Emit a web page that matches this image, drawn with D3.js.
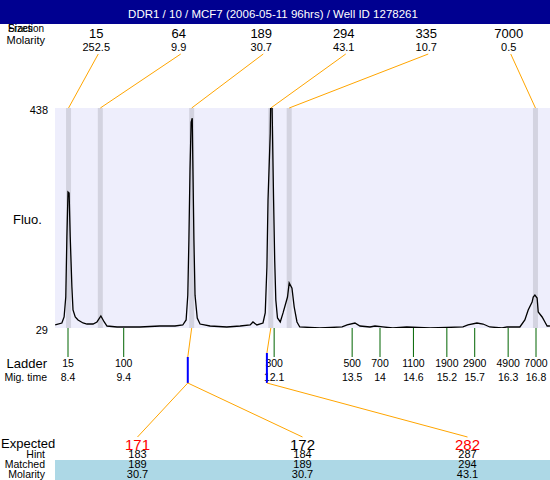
<html>
<head>
<script src="https://d3js.org/d3.v7.min.js"></script>
<style>
  body { margin: 0; background: #fff; }
  svg text { font-family: "Liberation Sans", Arial, sans-serif; }
</style>
</head>
<body>
<div id="vis_container"></div>
<script>
var title = "DDR1 / 10 / MCF7 (2006-05-11 96hrs) / Well ID 1278261";

// peaks found in the sample (migration time, size, molarity)
var peakTimes = [8.41, 8.98, 10.62, 12.04, 12.37, 16.79];
var peakSizes = ["15", "64", "189", "294", "335", "7000"];
var peakMolarity = ["252.5", "9.9", "30.7", "43.1", "10.7", "0.5"];

// ladder
var ladderSizes = ["15", "100", "300", "500", "700", "1100", "1900", "2900", "4900", "7000"];
var ladderTimes = [8.4, 9.4, 12.1, 13.5, 14, 14.6, 15.2, 15.7, 16.3, 16.8];

// matched fragments
var matchPeak = [2, 3];            // index into peaks
var matchTimes = [10.55, 11.97];    // blue markers
var matchTop = [357, 353];
var expected = ["171", "172", "282"];
var expectedRed = [true, false, true];
var expectedMatch = [0, 0, 1];
var hint = ["183", "184", "287"];
var matched = ["189", "189", "294"];
var matchedMolarity = ["30.7", "30.7", "43.1"];

// electropherogram trace: [migration time, fluorescence]
var trace = [
  [8.17,34.6],[8.29,38.3],[8.33,49.5],[8.36,86.6],[8.38,198],[8.40,282],[8.42,280],[8.44,198],
  [8.47,105],[8.49,62.5],[8.53,49.5],[8.58,43.9],[8.67,38.3],[8.74,36.4],[8.85,36.4],[8.92,40.2],
  [8.99,51.3],[9.05,40.2],[9.10,32.7],[9.28,30.9],[9.69,30.9],[10.05,32.7],[10.32,32.7],[10.46,34.6],
  [10.52,43.9],[10.55,90],[10.57,193],[10.59,323],[10.61,412],[10.63,419],[10.64,341],[10.66,193],
  [10.68,90],[10.72,47.6],[10.77,36.4],[10.95,32.7],[11.25,30.9],[11.49,32.7],[11.67,34.6],[11.72,40.2],
  [11.79,34.6],[11.90,38.3],[11.94,57],[11.97,142],[11.99,267],[12.03,391],[12.04,460],[12.06,460],
  [12.09,267],[12.11,155],[12.13,81],[12.16,47.6],[12.21,40.2],[12.26,57],[12.34,86.6],[12.37,112.7],
  [12.42,103],[12.46,68],[12.51,40.2],[12.56,30.9],[12.92,29],[13.32,30.9],[13.41,34.6],[13.55,38.3],
  [13.64,32.7],[13.82,30.9],[13.91,32.7],[14.05,30.9],[14.23,29],[14.48,30.9],[14.90,29],[15.49,30.9],
  [15.58,34.6],[15.74,38.3],[15.85,36.4],[15.97,30.9],[16.19,29],[16.28,30.9],[16.51,30.9],[16.60,44],
  [16.66,62.5],[16.73,77.3],[16.75,86.6],[16.78,90.3],[16.82,84.8],[16.84,58.7],[16.91,49.5],[16.96,40.2],
  [17.00,32.7],[17.05,32.7]
];
var yTicks = [29, 438];

var width = 550, height = 480;
var plotLeft = 55, plotRight = 550, plotTop = 108, plotBottom = 328;

var svg = d3.select("#vis_container").append("svg")
  .attr("width", width).attr("height", height);

var x = d3.scaleLinear().domain([8.4, 16.8]).range([68, 536]);
var y = d3.scaleLinear().domain([29, 438]).range([plotBottom, plotTop]);
var col6 = d3.scaleBand().domain(d3.range(6)).range([plotLeft, plotRight]);
var col3 = d3.scaleBand().domain(d3.range(3)).range([plotLeft, plotRight]);

// title bar
svg.append("rect").attr("x", 0).attr("y", 0).attr("width", width).attr("height", 24).attr("fill", "#000090");
svg.append("text").attr("x", 273).attr("y", 18).attr("text-anchor", "middle")
  .attr("fill", "#fff").style("font-size", "11.5px").text(title);

// header labels
svg.append("text").attr("x", 8).attr("y", 32).style("font-size", "10px").text("Fraction");
svg.append("text").attr("x", 8).attr("y", 32).style("font-size", "10px").text("Sizes");
svg.append("text").attr("x", 45).attr("y", 44).attr("text-anchor", "end").style("font-size", "11px").text("Molarity");

svg.selectAll(".psize").data(peakSizes).enter().append("text")
  .attr("x", function(d, i) { return col6(i) + col6.bandwidth() / 2; })
  .attr("y", 38).attr("text-anchor", "middle").style("font-size", "13px").text(function(d) { return d; });
svg.selectAll(".pmol").data(peakMolarity).enter().append("text")
  .attr("x", function(d, i) { return col6(i) + col6.bandwidth() / 2; })
  .attr("y", 51).attr("text-anchor", "middle").style("font-size", "11px").text(function(d) { return d; });

// plot background
svg.append("rect").attr("x", plotLeft).attr("y", plotTop).attr("width", plotRight - plotLeft).attr("height", plotBottom - plotTop)
  .attr("fill", "#EEEEFC");

svg.selectAll(".band").data(peakTimes).enter().append("rect")
  .attr("x", function(d) { return x(d) - 2.5; }).attr("y", plotTop)
  .attr("width", 5).attr("height", plotBottom - plotTop).attr("fill", "#D3D3E0");

// orange lines from header labels to peaks
svg.selectAll(".plink").data(peakTimes).enter().append("line")
  .attr("x1", function(d, i) { return col6(i) + col6.bandwidth() / 2 + 2; }).attr("y1", 54)
  .attr("x2", function(d) { return x(d); }).attr("y2", plotTop)
  .attr("stroke", "#FFA500").attr("stroke-width", 1);

svg.append("clipPath").attr("id", "clip").append("rect")
  .attr("x", plotLeft).attr("y", plotTop).attr("width", plotRight - plotLeft).attr("height", plotBottom - plotTop);

svg.append("path").datum(trace)
  .attr("clip-path", "url(#clip)")
  .attr("fill", "none").attr("stroke", "#000").attr("stroke-width", 1.3)
  .attr("d", d3.line().x(function(d) { return x(d[0]); }).y(function(d) { return y(d[1]); }));

// y labels
svg.selectAll(".ylab").data(yTicks).enter().append("text")
  .attr("x", 48).attr("y", function(d) { return y(d) + 6; })
  .attr("text-anchor", "end").style("font-size", "11px").text(function(d) { return d; });
svg.append("text").attr("x", 13).attr("y", 224).style("font-size", "13px").text("Fluo.");

// ladder
svg.selectAll(".ltick").data(ladderTimes).enter().append("line")
  .attr("x1", function(d) { return x(d); }).attr("x2", function(d) { return x(d); })
  .attr("y1", plotBottom).attr("y2", 357).attr("stroke", "#006400").attr("stroke-width", 1);
svg.selectAll(".lsize").data(ladderSizes).enter().append("text")
  .attr("x", function(d, i) { return x(ladderTimes[i]); }).attr("y", 367)
  .attr("text-anchor", "middle").style("font-size", "10.5px").text(function(d) { return d; });
svg.selectAll(".ltime").data(ladderTimes).enter().append("text")
  .attr("x", function(d) { return x(d); }).attr("y", 381)
  .attr("text-anchor", "middle").style("font-size", "10.5px").text(function(d) { return d; });
svg.append("text").attr("x", 47).attr("y", 368).attr("text-anchor", "end").style("font-size", "13px").text("Ladder");
svg.append("text").attr("x", 47).attr("y", 381).attr("text-anchor", "end").style("font-size", "10.5px").text("Mig. time");

// matched markers
matchTimes.forEach(function(t, i) {
  svg.append("line")
    .attr("x1", x(peakTimes[matchPeak[i]])).attr("y1", plotBottom)
    .attr("x2", x(t)).attr("y2", matchTop[i])
    .attr("stroke", "#FFA500").attr("stroke-width", 1);
  svg.append("line")
    .attr("x1", x(t)).attr("x2", x(t)).attr("y1", matchTop[i]).attr("y2", 383)
    .attr("stroke", "#0000FF").attr("stroke-width", 2);
});

svg.selectAll(".elink").data(expected).enter().append("line")
  .attr("x1", function(d, i) { return x(matchTimes[expectedMatch[i]]); }).attr("y1", 383)
  .attr("x2", function(d, i) { return col3(i) + col3.bandwidth() / 2; }).attr("y2", 437)
  .attr("stroke", "#FFA500").attr("stroke-width", 1);

// expected table
svg.append("rect").attr("x", plotLeft).attr("y", 460).attr("width", plotRight - plotLeft).attr("height", 20).attr("fill", "#ADD8E6");
svg.append("text").attr("x", 1).attr("y", 448).style("font-size", "13px").text("Expected");
[["Hint", 458], ["Matched", 468], ["Molarity", 478]].forEach(function(r) {
  svg.append("text").attr("x", 45).attr("y", r[1]).attr("text-anchor", "end").style("font-size", "10.5px").text(r[0]);
});
svg.selectAll(".exp").data(expected).enter().append("text")
  .attr("x", function(d, i) { return col3(i) + col3.bandwidth() / 2; }).attr("y", 450)
  .attr("text-anchor", "middle").style("font-size", "15px")
  .attr("fill", function(d, i) { return expectedRed[i] ? "#FF0000" : "#000"; })
  .text(function(d) { return d; });
[[hint, 458], [matched, 468], [matchedMolarity, 478]].forEach(function(r) {
  svg.selectAll(null).data(r[0]).enter().append("text")
    .attr("x", function(d, i) { return col3(i) + col3.bandwidth() / 2; }).attr("y", r[1])
    .attr("text-anchor", "middle").style("font-size", "11px").text(function(d) { return d; });
});
</script>
</body>
</html>
